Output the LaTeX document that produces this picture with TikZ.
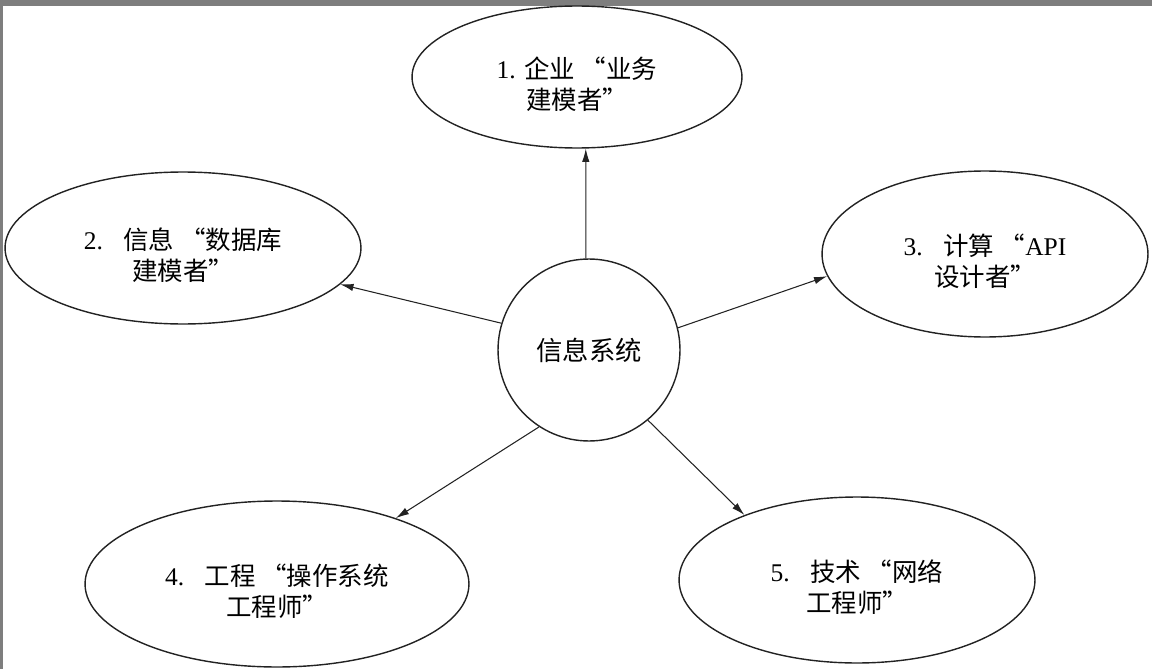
\documentclass[tikz,border=0pt]{standalone}
\usepackage{fontspec}
\usepackage{tikz}
\usepackage{xcolor}
\usetikzlibrary{arrows.meta,shapes.geometric}
\setmainfont{Liberation Serif}
\newfontfamily\cjk{Noto Sans CJK SC}
\definecolor{scan}{HTML}{7E7E7E}
\definecolor{ink}{HTML}{222222}

\begin{document}
\begin{tikzpicture}[x=0.02cm,y=-0.02cm,>={Latex[length=7.5pt,width=4.2pt]},
    role/.style={draw=ink,ellipse,line width=0.8pt,inner sep=0pt,align=center,
      text height=38pt,font=\fontsize{14.5}{17.5}\selectfont},
    link/.style={->,draw=ink,line width=0.6pt}]
    \useasboundingbox (0,0) rectangle (1152,669);
    % scanned page edge
    \fill[scan] (0,0) rectangle (1152,6);
    \fill[scan] (0,0) rectangle (3,669);
    \node[draw=ink,circle,line width=0.8pt,minimum size=3.64cm,inner sep=0pt,
      font=\fontsize{15}{18}\selectfont] (sys) at (589,350) {\cjk 信息系统};
    \node[role,minimum width=6.6cm,minimum height=2.84cm] (biz) at (577,77)
      {1. {\cjk 企业 “业务}\\{\cjk 建模者”}};
    \node[role,minimum width=7.12cm,minimum height=3.04cm] (info) at (183,248)
      {2.\hspace{0.8em}{\cjk 信息 “数据库}\\{\cjk 建模者”}};
    \node[role,minimum width=6.52cm,minimum height=3.32cm] (comp) at (985,254)
      {3.\hspace{0.8em}{\cjk 计算 “}API\\{\cjk 设计者”}};
    \node[role,minimum width=7.68cm,minimum height=3.32cm] (eng) at (277,584)
      {4.\hspace{0.8em}{\cjk 工程 “操作系统}\\{\cjk 工程师”}};
    \node[role,minimum width=7.12cm,minimum height=3.32cm] (tech) at (857,580)
      {5.\hspace{0.8em}{\cjk 技术 “网络}\\{\cjk 工程师”}};
    \draw[link] (sys.92) -- (biz.277);
    \draw[link] (sys.163) -- (info.347);
    \draw[link] (sys.14) -- (comp.188);
    \draw[link] (sys.237) -- (eng.29);
    \draw[link] (sys.310) -- (tech.150);
\end{tikzpicture}
\end{document}
